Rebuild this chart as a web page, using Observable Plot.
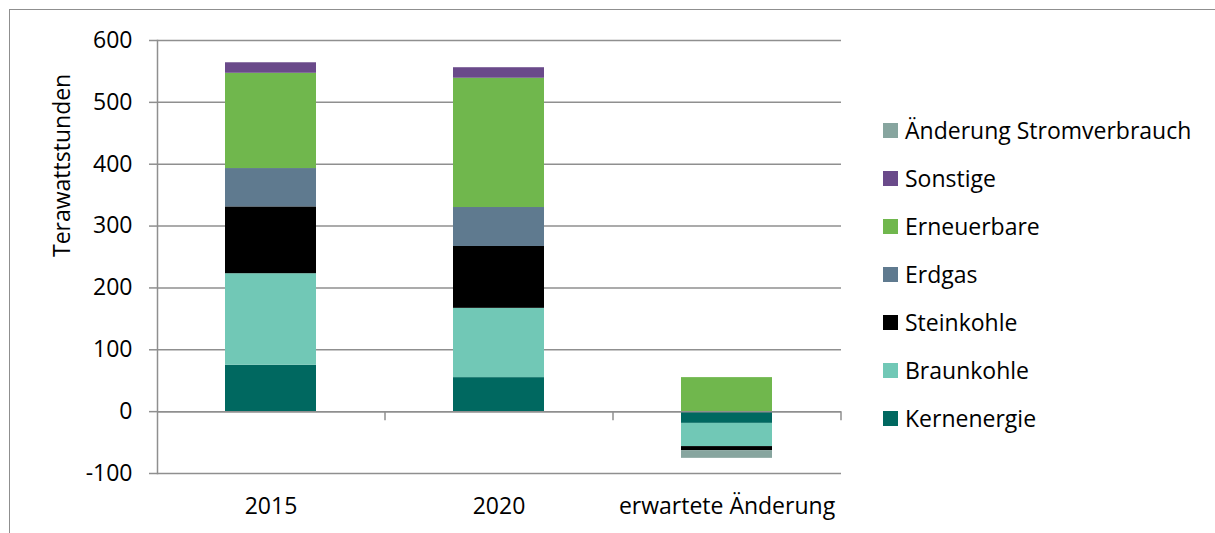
<!DOCTYPE html>
<html><head><meta charset="utf-8">
<script src="https://cdn.jsdelivr.net/npm/d3@7"></script>
<script src="https://cdn.jsdelivr.net/npm/@observablehq/plot@0.6"></script>
<style>
body{margin:0;background:#fff;font-family:"Open Sans",sans-serif;}
#wrap{position:relative;width:1215px;height:533px;overflow:hidden;background:#fff;}
#border{position:absolute;left:9px;top:9px;width:1230px;height:560px;border:1.5px solid #8f8f8f;box-sizing:border-box;}
#chart{position:absolute;left:0;top:0;}
.item{position:absolute;left:883px;height:0;display:flex;align-items:center;white-space:nowrap;font-size:23px;color:#000;}
.sw{width:15px;height:15px;margin-right:7px;flex:none;}
</style></head><body>
<div id="wrap"><div id="border"></div><div id="chart"></div><div id="legend"></div></div>
<script>
const categories = ["2015", "2020", "erwartete Änderung"];
const series = ["Kernenergie", "Braunkohle", "Steinkohle", "Erdgas", "Erneuerbare", "Sonstige", "Änderung Stromverbrauch"];
const colors = ["#006860", "#71c8b6", "#000000", "#5f7a8f", "#70b74d", "#6a4a8a", "#87a59f"];
const kernenergie = [75, 55, -19];
const braunkohle = [148, 112, -37.5];
const steinkohle = [108, 100, -6.5];
const erdgas = [62, 63, 0];
const erneuerbare = [154, 209, 55];
const sonstige = [17, 17, 0];
const aenderungStromverbrauch = [0, 0, -12.5];
const yTicks = [-100, 0, 100, 200, 300, 400, 500, 600];
const legendOrder = ["Änderung Stromverbrauch", "Sonstige", "Erneuerbare", "Erdgas", "Steinkohle", "Braunkohle", "Kernenergie"];

const valuesBySeries = [kernenergie, braunkohle, steinkohle, erdgas, erneuerbare, sonstige, aenderungStromverbrauch];
const rows = [];
series.forEach((s, si) => categories.forEach((c, ci) => rows.push({cat: c, series: s, value: valuesBySeries[si][ci]})));

const W = 1215, H = 533, ML = 157, MR = 374, MT = 40, MB = 60;
const halfStep = (W - ML - MR) / categories.length / 2;
const grid = "#8f8f8f";

const plot = Plot.plot({
  width: W, height: H,
  marginLeft: ML, marginRight: MR, marginTop: MT, marginBottom: MB,
  style: {fontFamily: "'Open Sans', sans-serif", fontSize: "23px", color: "#000", background: "transparent"},
  x: {type: "band", domain: categories, paddingInner: 0.6, paddingOuter: 0.3, axis: null, label: null},
  y: {domain: [-100, 600], axis: null, label: null},
  color: {domain: series, range: colors},
  marks: [
    Plot.ruleY(yTicks, {stroke: grid, strokeWidth: 1.5}),
    Plot.frame({anchor: "left", stroke: grid, strokeWidth: 1.5}),
    Plot.barY(rows, {x: "cat", y: "value", fill: "series", z: "series", order: series}),
    Plot.ruleY([0], {stroke: grid, strokeWidth: 1.5}),
    Plot.ruleX(categories, {x: d => d, y1: 0, y2: 0, insetBottom: -9, dx: halfStep, stroke: grid, strokeWidth: 1.5}),
    Plot.axisY({ticks: yTicks, label: null, tickSize: 8, tickPadding: 17, stroke: grid, strokeWidth: 1.5, fontSize: 23, fill: "#000", tickFormat: d => d < 0 ? "-" + Math.abs(d) : String(d)}),
    Plot.axisX({tickSize: 0, tickPadding: 24, fontSize: 23, fill: "#000", label: null}),
    Plot.text(["Terawattstunden"], {frameAnchor: "left", rotate: -90, dx: -95, fontSize: 23, fill: "#000"})
  ]
});
document.getElementById("chart").appendChild(plot);

const legend = document.getElementById("legend");
legendOrder.forEach((s, i) => {
  const item = document.createElement("div");
  item.className = "item";
  item.style.top = (130 + 48 * i) + "px";
  const sw = document.createElement("span");
  sw.className = "sw";
  sw.style.background = colors[series.indexOf(s)];
  const t = document.createElement("span");
  t.textContent = s;
  item.appendChild(sw); item.appendChild(t);
  legend.appendChild(item);
});
</script>
</body></html>
